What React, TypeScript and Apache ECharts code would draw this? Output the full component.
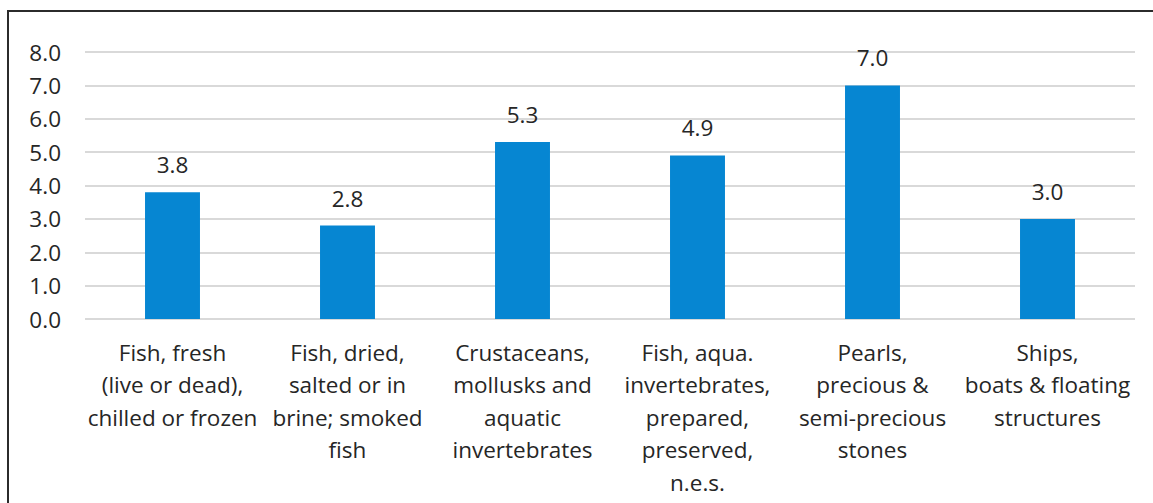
import React, { useEffect, useRef } from "react";
import * as echarts from "echarts";

const categories = [
  "Fish, fresh\n(live or dead),\nchilled or frozen",
  "Fish, dried,\nsalted or in\nbrine; smoked\nfish",
  "Crustaceans,\nmollusks and\naquatic\ninvertebrates",
  "Fish, aqua.\ninvertebrates,\nprepared,\npreserved,\nn.e.s.",
  "Pearls,\nprecious &\nsemi-precious\nstones",
  "Ships,\nboats & floating\nstructures",
];
const values = [3.8, 2.8, 5.3, 4.9, 7.0, 3.0];
const yTicks = { min: 0, max: 8, interval: 1 };

export default function App() {
  const ref = useRef<HTMLDivElement>(null);
  useEffect(() => {
    if (!ref.current) return;
    const chart = echarts.init(ref.current, undefined, { renderer: "svg" });
    const font = "'Open Sans', sans-serif";
    chart.setOption({
      animation: false,
      graphic: [
        {
          type: "rect",
          shape: { x: 8, y: 11, width: 1160, height: 500 },
          style: { fill: "none", stroke: "#2b2b2b", lineWidth: 2 },
          z: 100,
        },
      ],
      grid: { left: 85, right: 18, top: 52, bottom: 184, containLabel: false },
      xAxis: {
        type: "category",
        data: categories,
        axisLine: { show: false },
        axisTick: { show: false },
        axisLabel: {
          interval: 0,
          color: "#262626",
          fontSize: 22.5,
          lineHeight: 32.5,
          margin: 17,
          fontFamily: font,
          align: "center",
        },
      },
      yAxis: {
        type: "value",
        min: yTicks.min,
        max: yTicks.max,
        interval: yTicks.interval,
        axisLine: { show: false },
        axisTick: { show: false },
        splitLine: { lineStyle: { color: "#d9d9d9", width: 2 } },
        axisLabel: {
          color: "#262626",
          fontSize: 22.5,
          margin: 24,
          fontFamily: font,
          formatter: (v: number) => v.toFixed(1),
        },
      },
      series: [
        {
          type: "bar",
          data: values,
          barWidth: "31.4%",
          itemStyle: { color: "#0686d2" },
          label: {
            show: true,
            position: "top",
            distance: 16,
            color: "#262626",
            fontSize: 22.5,
            fontFamily: font,
            formatter: (p: any) => Number(p.value).toFixed(1),
          },
        },
      ],
    });
    return () => chart.dispose();
  }, []);
  return (
    <div
      ref={ref}
      style={{ position: "absolute", left: 0, top: 0, width: 1153, height: 503, background: "#fff" }}
    />
  );
}
